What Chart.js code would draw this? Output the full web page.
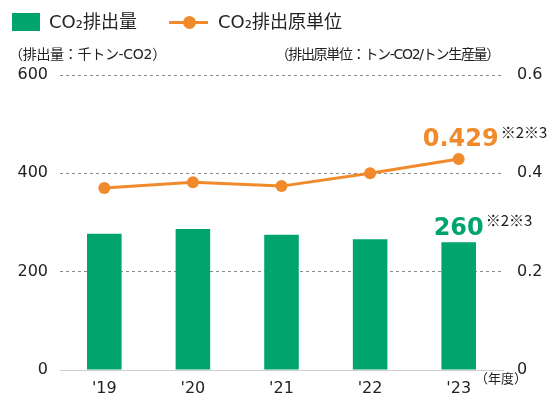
<!DOCTYPE html>
<html lang="ja">
<head>
<meta charset="utf-8">
<script src="https://cdn.jsdelivr.net/npm/chart.js@4.4.7/dist/chart.umd.min.js"></script>
<style>
  html, body { margin: 0; padding: 0; background: #fff; }
  body { width: 559px; height: 396px; position: relative; overflow: hidden;
         font-family: "DejaVu Sans", "Noto Sans CJK JP", sans-serif; color: #222; }
  #wrap { position: absolute; left: 0; top: 0; width: 559px; height: 396px; }
  .lbl { position: absolute; white-space: nowrap; line-height: 1; }
  .sw-bar { position: absolute; left: 12px; top: 13px; width: 28px; height: 18px; background: #00A46C; }
  .sw-line { position: absolute; left: 169px; top: 21px; width: 39px; height: 3px; background: #F18A2B; }
  .sw-dot { position: absolute; left: 183px; top: 16px; width: 13px; height: 13px; border-radius: 50%; background: #F18A2B; }
</style>
</head>
<body>
<div id="wrap"><canvas id="chart" width="559" height="396"></canvas></div>

<div class="sw-bar"></div>
<div class="lbl" style="left:49px; top:13px; font-size:18px;">CO₂排出量</div>
<div class="sw-line"></div>
<div class="sw-dot"></div>
<div class="lbl" style="left:218px; top:13px; font-size:18px;">CO₂排出原単位</div>

<div class="lbl" style="left:9px; top:47px; font-size:14px; letter-spacing:-0.3px;">（排出量：千トン-CO2）</div>
<div class="lbl" style="right:60px; top:47px; font-size:14px; letter-spacing:-1.3px;">（排出原単位：トン-CO2/トン生産量）</div>
<div class="lbl" style="left:475px; top:372px; font-size:13px;">（年度）</div>

<script>
  // ---- Data ----
  var years = ["'19", "'20", "'21", "'22", "'23"];
  var emissions = [277, 287, 275, 266, 260];          // 千トン-CO2
  var intensity = [0.37, 0.382, 0.374, 0.40, 0.429];  // トン-CO2/トン生産量
  var leftTicks = [0, 200, 400, 600];
  var rightTicks = [0, 0.2, 0.4, 0.6];

  var GREEN = "#00A46C";
  var ORANGE = "#F18A2B";

  // labels for the last year
  var notePlugin = {
    id: "notes",
    afterDatasetsDraw: function (chart) {
      var ctx = chart.ctx;
      var x = chart.scales.x.getPixelForValue(4);
      var yLine = chart.scales.y1.getPixelForValue(intensity[4]);
      var yBar = chart.scales.y.getPixelForValue(emissions[4]);
      ctx.save();

      ctx.textBaseline = "alphabetic";
      ctx.font = "bold 24px 'DejaVu Sans'";
      ctx.fillStyle = ORANGE;
      ctx.textAlign = "center";
      var t1 = intensity[4].toFixed(3);
      var w1 = ctx.measureText(t1).width;
      ctx.fillText(t1, x + 2, yLine - 13);
      ctx.font = "15px 'Noto Sans CJK JP'";
      ctx.fillStyle = "#222";
      ctx.textAlign = "left";
      ctx.textBaseline = "top";
      ctx.fillText("※2※3", x + 2 + w1 / 2 + 2, yLine - 34);

      ctx.textBaseline = "alphabetic";
      ctx.font = "bold 24px 'DejaVu Sans'";
      ctx.fillStyle = GREEN;
      ctx.textAlign = "center";
      var t2 = String(emissions[4]);
      var w2 = ctx.measureText(t2).width;
      ctx.fillText(t2, x, yBar - 7);
      ctx.font = "15px 'Noto Sans CJK JP'";
      ctx.fillStyle = "#222";
      ctx.textAlign = "left";
      ctx.textBaseline = "top";
      ctx.fillText("※2※3", x + w2 / 2 + 2, yBar - 29);
      ctx.restore();
    }
  };

  var ctx = document.getElementById("chart").getContext("2d");
  new Chart(ctx, {
    type: "bar",
    data: {
      labels: years,
      datasets: [
        {
          type: "line",
          label: "CO₂排出原単位",
          data: intensity,
          yAxisID: "y1",
          borderColor: ORANGE,
          backgroundColor: ORANGE,
          borderWidth: 3,
          pointRadius: 6,
          pointBorderWidth: 0,
          pointBackgroundColor: ORANGE,
          tension: 0,
          order: 0
        },
        {
          label: "CO₂排出量",
          data: emissions,
          yAxisID: "y",
          backgroundColor: GREEN,
          barPercentage: 0.39,
          categoryPercentage: 1,
          order: 1
        }
      ]
    },
    options: {
      responsive: false,
      animation: false,
      events: [],
      layout: { padding: { top: 75, left: 0, right: 0, bottom: 0 } },
      plugins: { legend: { display: false }, tooltip: { enabled: false } },
      scales: {
        x: {
          grid: { display: false },
          border: { display: true, color: "#cfcfcf", width: 1 },
          ticks: { color: "#222", font: { size: 16, family: "'DejaVu Sans'" }, padding: 1 },
          afterFit: function (s) { s.height = 26; }
        },
        y: {
          position: "left",
          min: 0, max: 600,
          afterBuildTicks: function (s) { s.ticks = leftTicks.map(function (v) { return { value: v }; }); },
          grid: {
            drawTicks: false,
            color: function (c) { return c.tick.value === 0 ? "rgba(0,0,0,0)" : "#8a8a8a"; },
            lineWidth: 1
          },
          border: { display: false, dash: [3, 3] },
          ticks: { color: "#222", font: { size: 16, family: "'DejaVu Sans'" }, padding: 12 },
          afterFit: function (s) { s.width = 60; }
        },
        y1: {
          position: "right",
          min: 0, max: 0.6,
          afterBuildTicks: function (s) { s.ticks = rightTicks.map(function (v) { return { value: v }; }); },
          grid: { display: false, drawTicks: false },
          border: { display: false },
          ticks: { color: "#222", font: { size: 16, family: "'DejaVu Sans'" }, padding: 14 },
          afterFit: function (s) { s.width = 56; }
        }
      }
    },
    plugins: [notePlugin]
  });
</script>
</body>
</html>
